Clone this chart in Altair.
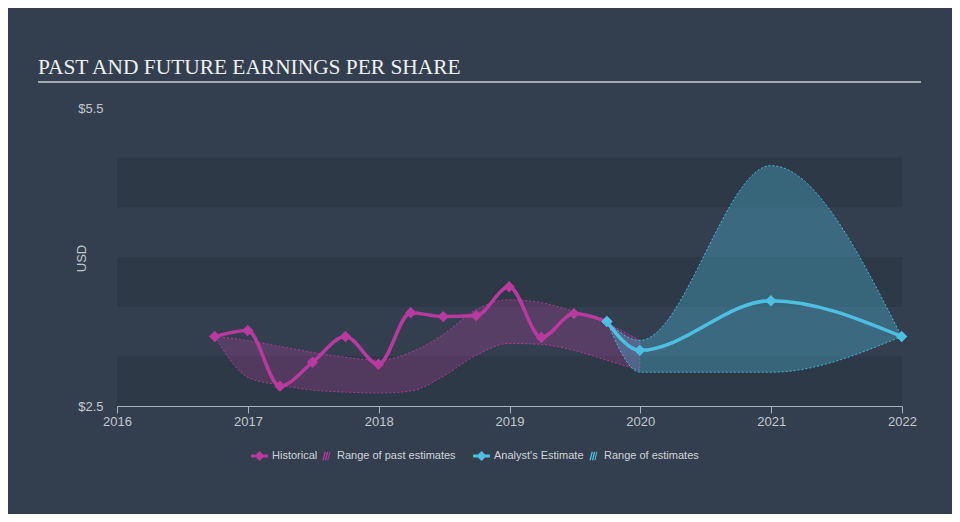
import altair as alt
import pandas as pd

# ---------------- data ----------------
hist_dates = ["2016-09-30", "2016-12-31", "2017-03-31", "2017-06-30", "2017-09-30",
              "2017-12-31", "2018-03-31", "2018-06-30", "2018-09-30", "2018-12-31",
              "2019-03-31", "2019-06-30", "2019-09-30"]
hist_eps = [3.20, 3.26, 2.70, 2.94, 3.20, 2.92, 3.44, 3.40, 3.41, 3.70, 3.19, 3.43, 3.35]

past_dates = hist_dates + ["2019-12-31"]
past_high = [3.20, 3.16, 3.10, 3.04, 2.99, 2.96, 3.04, 3.22, 3.47, 3.57, 3.54, 3.45, 3.33, 3.16]
past_low = [3.20, 2.79, 2.71, 2.66, 2.64, 2.63, 2.65, 2.80, 3.01, 3.13, 3.12, 3.06, 2.96, 2.86]

est_dates = ["2019-09-30", "2019-12-31", "2020-12-31", "2021-12-31"]
est_eps = [3.35, 3.06, 3.56, 3.20]
est_high = [3.35, 3.16, 4.92, 3.20]
est_low = [3.35, 2.84, 2.84, 3.20]

band_low = [2.5, 3.5, 4.5]
band_high = [3.0, 4.0, 5.0]

years = [2016, 2017, 2018, 2019, 2020, 2021, 2022]
y_ticks = [2.5, 5.5]

legend_past = ["Historical", "Range of past estimates"]
legend_future = ["Analyst's Estimate", "Range of estimates"]
title_text = "PAST AND FUTURE EARNINGS PER SHARE"

# ---------------- style ----------------
BG = "#333f4f"
BAND = "#2d3947"
MAG = "#b83a9f"
CYAN = "#4dc0e2"
LABEL = "#c3c8ce"
W, H = 785, 298

hist_df = pd.DataFrame({"date": hist_dates, "eps": hist_eps})
past_df = pd.DataFrame({"date": past_dates, "low": past_low, "high": past_high})
est_df = pd.DataFrame({"date": est_dates, "eps": est_eps})
estr_df = pd.DataFrame({"date": est_dates, "low": est_low, "high": est_high})
band_df = pd.DataFrame({"low": band_low, "high": band_high})
one_df = pd.DataFrame({"t": [title_text]})

xscale = alt.Scale(type="utc", domain=[alt.DateTime(year=2016, month=1, date=1, utc=True),
                                       alt.DateTime(year=2022, month=1, date=1, utc=True)])
yscale = alt.Scale(domain=[2.5, 5.5], zero=False, nice=False)

x_axis = alt.Axis(values=[alt.DateTime(year=y, month=1, date=1, utc=True) for y in years],
                  format="%Y", formatType="utc", title=None, grid=False,
                  labelFlush=False, labelOverlap=False, labelFontSize=13,
                  labelColor=LABEL, labelFont="Liberation Sans", labelPadding=2,
                  tickColor="#aab1ba", tickSize=7, domainColor="#aab1ba")
y_axis = alt.Axis(values=y_ticks, format="$.1f", title="USD", grid=False, ticks=False,
                  domain=False, labelFontSize=13, labelColor=LABEL,
                  labelFont="Liberation Sans", labelPadding=14,
                  titleFont="Liberation Sans", titleFontSize=13, titleFontWeight="normal",
                  titleColor=LABEL, titleX=-36, titleY=150, titleAngle=270,
                  titleAlign="center", titleBaseline="middle")


def X():
    return alt.X("date:T", scale=xscale, axis=x_axis)


def Y(field):
    return alt.Y(field, scale=yscale, axis=y_axis)


bands = alt.Chart(band_df).mark_rect(color=BAND).encode(
    x=alt.value(0), x2=alt.value(W),
    y=Y("low:Q"), y2="high:Q")

past_area = alt.Chart(past_df).mark_area(
    interpolate="monotone", fill=MAG, fillOpacity=0.27, stroke=MAG, strokeWidth=1,
    strokeDash=[2, 2], strokeOpacity=0.9).encode(
    x=X(), y=Y("low:Q"), y2="high:Q")

est_area = alt.Chart(estr_df).mark_area(
    interpolate="monotone", fill=CYAN, fillOpacity=0.33, stroke=CYAN, strokeWidth=1,
    strokeDash=[2, 2], strokeOpacity=0.9).encode(
    x=X(), y=Y("low:Q"), y2="high:Q")

hist_line = alt.Chart(hist_df).mark_line(
    interpolate="monotone", color=MAG, strokeWidth=3.5).encode(
    x=X(), y=Y("eps:Q"))
hist_pts = alt.Chart(hist_df).mark_point(
    shape="diamond", filled=True, size=130, color=MAG, opacity=1).encode(
    x=X(), y=Y("eps:Q"))

est_line = alt.Chart(est_df).mark_line(
    interpolate="monotone", color=CYAN, strokeWidth=3.5).encode(
    x=X(), y=Y("eps:Q"))
est_pts = alt.Chart(est_df).mark_point(
    shape="diamond", filled=True, size=130, color=CYAN, opacity=1).encode(
    x=X(), y=Y("eps:Q"))

LINE_SYM = ("M-1.2,-0.2L-0.5,-0.2L0,-0.7L0.5,-0.2L1.2,-0.2L1.2,0.2L0.5,0.2"
            "L0,0.7L-0.5,0.2L-1.2,0.2Z")
HATCH_SYM = ("M-0.3,0.6L0.0,-0.6L0.2,-0.6L-0.1,0.6Z "
             "M0.05,0.6L0.35,-0.6L0.55,-0.6L0.25,0.6Z "
             "M0.4,0.6L0.7,-0.6L0.85,-0.6L0.55,0.6Z")


def legend_layer(names, color, lx):
    leg = dict(title=None, orient="none", direction="horizontal", legendX=lx, legendY=341,
               labelFont="Liberation Sans", labelFontSize=11, labelColor="#d0d4d9",
               symbolSize=196, symbolStrokeWidth=0, labelOffset=5.5, columnPadding=-2,
               padding=0)
    df = pd.DataFrame({"series": names})
    return alt.Chart(df).transform_filter("false").mark_point(filled=True, opacity=1).encode(
        color=alt.Color("series:N", scale=alt.Scale(domain=names, range=[color, color]),
                        legend=alt.Legend(**leg)),
        shape=alt.Shape("series:N", scale=alt.Scale(domain=names, range=[LINE_SYM, HATCH_SYM]),
                        legend=alt.Legend(**leg)))


leg_a = legend_layer(legend_past, MAG, 135.5)
leg_b = legend_layer(legend_future, CYAN, 357.5)

title = alt.Chart(one_df).mark_text(
    align="left", baseline="alphabetic", font="Liberation Serif", fontSize=21.4,
    color="#eef0f2").encode(text="t:N", x=alt.value(-79), y=alt.value(-34))
underline = alt.Chart(one_df).mark_rule(color="#a3a9b1", strokeWidth=2).encode(
    x=alt.value(-79), x2=alt.value(804), y=alt.value(-26))

chart = alt.layer(
    bands, past_area, est_area, hist_line, hist_pts, est_line, est_pts,
    leg_a, leg_b, title, underline
).resolve_scale(color="independent", shape="independent").properties(
    width=W, height=H,
    autosize=alt.AutoSizeParams(type="none"),
    padding={"left": 109, "top": 100, "right": 50, "bottom": 108},
).configure(background=BG).configure_view(stroke=None)

chart.save("out.html", embed_options={"renderer": "svg", "actions": False})
